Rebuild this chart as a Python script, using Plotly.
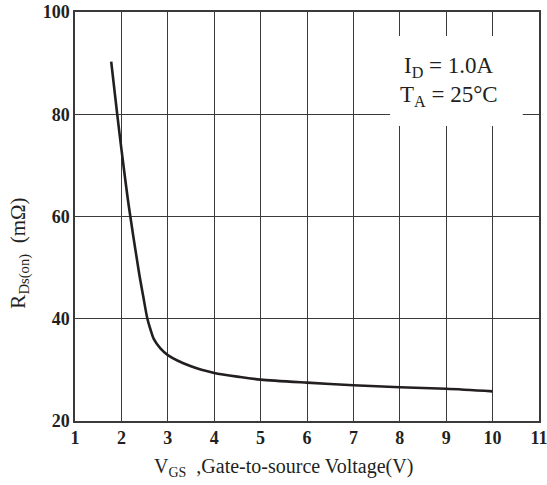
import plotly.graph_objects as go

# Data
vgs = [1.78, 1.91, 2.0, 2.16, 2.38, 2.47, 2.56, 2.63, 2.70, 2.84, 3.0, 3.5, 4.0, 4.56, 5, 6, 7, 8, 9, 10]
rds = [90.3, 80, 73.2, 62, 49, 44.4, 40, 37.8, 36.0, 34.2, 32.9, 30.7, 29.4, 28.6, 28.1, 27.5, 27.0, 26.6, 26.3, 25.8]

x_ticks = list(range(1, 12))
y_ticks = [20, 40, 60, 80, 100]

SERIF = "Liberation Serif, Times New Roman, serif"

fig = go.Figure()
fig.add_trace(go.Scatter(
    x=vgs, y=rds, mode="lines",
    line=dict(color="#231f20", width=2.6, shape="spline", smoothing=0.8),
    showlegend=False, hoverinfo="skip",
))

fig.add_shape(type="rect", xref="x", yref="y", x0=7.79, x1=10.65, y0=77.7, y1=95.3,
              fillcolor="white", line=dict(width=0), layer="above")

fig.add_annotation(xref="x", yref="y", x=9.05, y=89.3,
                   text="I<sub>D</sub> = 1.0A", showarrow=False,
                   font=dict(family=SERIF, size=23, color="#231f20"))
fig.add_annotation(xref="x", yref="y", x=9.05, y=83.5,
                   text="T<sub>A</sub> = 25°C", showarrow=False,
                   font=dict(family=SERIF, size=23, color="#231f20"))

fig.add_annotation(xref="paper", yref="paper", x=-0.12, y=0.41,
                   text="R<sub>Ds(on)</sub>  (mΩ)", showarrow=False, textangle=-90,
                   xanchor="center", yanchor="middle",
                   font=dict(family=SERIF, size=21, color="#231f20"))
fig.add_annotation(xref="paper", yref="paper", x=0.45, y=-0.1125,
                   text="V<sub>GS</sub>  ,Gate-to-source Voltage(V)", showarrow=False,
                   xanchor="center", yanchor="middle",
                   font=dict(family=SERIF, size=20, color="#231f20"))

axis_common = dict(
    showgrid=True, gridcolor="#3a3a3a", gridwidth=1,
    showline=True, linecolor="#3a3a3a", linewidth=1.5, mirror=True,
    ticks="", zeroline=False, automargin=False, ticklabeloverflow="allow",
    tickfont=dict(family=SERIF, size=18, color="#231f20", weight="bold"),
)

fig.update_xaxes(range=[1, 11], tickvals=x_ticks, ticktext=[str(v) for v in x_ticks], **axis_common)
fig.update_yaxes(range=[20, 100], tickvals=y_ticks, ticktext=[str(v) for v in y_ticks], **axis_common)

fig.update_layout(
    width=547, height=485, autosize=False,
    margin=dict(l=75, r=8, t=12, b=64, autoexpand=False),
    paper_bgcolor="white", plot_bgcolor="white",
)

fig.write_html("out.html")
